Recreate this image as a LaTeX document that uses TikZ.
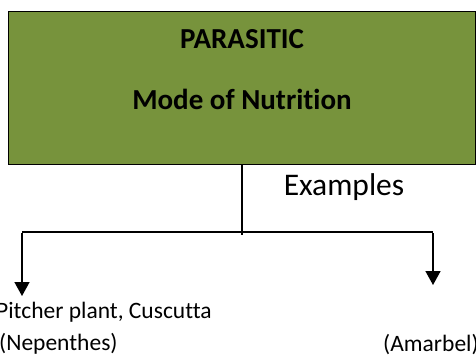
\documentclass[tikz,border=0pt]{standalone}
\usepackage{fontspec}
\setmainfont{Carlito}[Ligatures={NoCommon}]
\usetikzlibrary{arrows.meta}
\definecolor{olive}{RGB}{119,147,60}
\tikzset{
  boxstyle/.style={draw=black, line width=1.3pt, fill=olive},
  conn/.style={line width=1.6pt},
  arr/.style={conn, -{Triangle[width=15pt,length=14pt]}},
  title/.style={font=\fontsize{29}{34}\selectfont\bfseries, anchor=base, inner sep=0pt},
  lbl/.style={font=\fontsize{23.5}{28}\selectfont, anchor=base west, inner sep=0pt},
}
\begin{document}
\begin{tikzpicture}[x=1pt,y=-1pt]
\useasboundingbox (0,0) rectangle (476,357);
\node[boxstyle, minimum width=467pt, minimum height=153pt, anchor=north west, inner sep=0pt] (box) at (8,11) {};
\node[title] (t1) at (242,48) {PARASITIC};
\node[title] (t2) at (242,109) {Mode of Nutrition};
\node[font=\fontsize{31.5}{36}\selectfont, anchor=base, inner sep=0pt] (ex) at (344,195) {Examples};
\coordinate (j) at (242,235);
\coordinate (hl) at (22,232);
\coordinate (hr) at (433,232);
\coordinate (tl) at (22,296);
\coordinate (tr) at (433,285);
\node[lbl] (p1) at (-4,318) {Pitcher plant, Cuscutta};
\node[lbl] (p2) at (-1,350) {(Nepenthes)};
\node[lbl] (p3) at (383,351) {(Amarbel)};
\draw[conn] (box.south -| j) -- (j);
\draw[conn] (hl) -- (hr);
\draw[arr] ([yshift=-0.8pt]hl) -- (tl);
\draw[arr] ([yshift=-0.8pt]hr) -- (tr);
\end{tikzpicture}
\end{document}
